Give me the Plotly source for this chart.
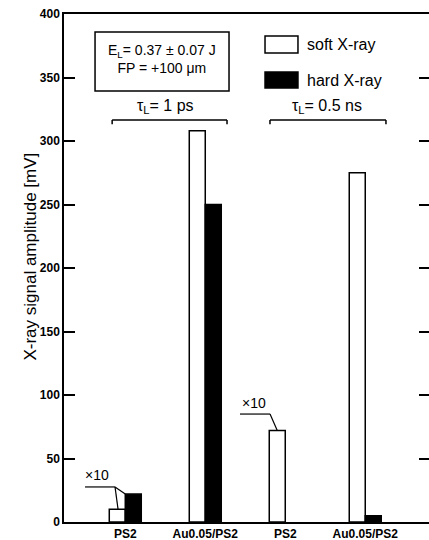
import plotly.graph_objects as go

# ---- data ----
categories = ["PS2", "Au0.05/PS2", "PS2", "Au0.05/PS2"]
positions = [1, 2, 3, 4]
soft_xray = [10, 308, 72, 275]
hard_xray = [22, 250, None, 5]
y_ticks = [0, 50, 100, 150, 200, 250, 300, 350, 400]
group_labels = ["τ<sub>L</sub>= 1 ps", "τ<sub>L</sub>= 0.5 ns"]
series_names = ["soft X-ray", "hard X-ray"]

FONT = "Liberation Sans, Arial, sans-serif"
BAR_W = 0.2

fig = go.Figure()
fig.add_bar(x=positions, y=soft_xray, width=BAR_W, offset=-BAR_W, name=series_names[0],
            marker=dict(color="white", line=dict(color="black", width=1.5)))
fig.add_bar(x=positions, y=hard_xray, width=BAR_W, offset=0, name=series_names[1],
            marker=dict(color="black", line=dict(color="black", width=1.5)))
# empty trace so the right-hand tick axis is drawn
fig.add_scatter(x=[None], y=[None], yaxis="y2", mode="markers", hoverinfo="skip")

shapes = []
annotations = []

def line(x0, y0, x1, y1, w=1.5):
    shapes.append(dict(type="line", xref="x", yref="y", x0=x0, y0=y0, x1=x1, y1=y1,
                       line=dict(color="black", width=w)))

# info box
shapes.append(dict(type="rect", xref="x", yref="y", x0=0.622, x1=2.297, y0=339.4, y1=385.8,
                   line=dict(color="black", width=1.5), fillcolor="rgba(0,0,0,0)"))
annotations.append(dict(x=1.46, y=364.2, xref="x", yref="y", showarrow=False,
                        text="E<sub>L</sub>= 0.37 ± 0.07 J<br>FP = +100 μm",
                        font=dict(family=FONT, size=14, color="black")))

# legend (custom)
shapes.append(dict(type="rect", xref="x", yref="y", x0=2.747, x1=3.159, y0=369.3, y1=382.7,
                   line=dict(color="black", width=1.5), fillcolor="white"))
shapes.append(dict(type="rect", xref="x", yref="y", x0=2.747, x1=3.159, y0=341.7, y1=354.3,
                   line=dict(color="black", width=1.5), fillcolor="black"))
annotations.append(dict(x=3.247, y=375.6, xref="x", yref="y", showarrow=False, xanchor="left",
                        text=series_names[0], font=dict(family=FONT, size=16, color="black")))
annotations.append(dict(x=3.247, y=348.0, xref="x", yref="y", showarrow=False, xanchor="left",
                        text=series_names[1], font=dict(family=FONT, size=16, color="black")))

# group brackets
for (xa, xb, xt), lab in zip([(0.836, 2.272, 1.497), (2.809, 4.259, 3.522)], group_labels):
    line(xa, 316.5, xb, 316.5)
    line(xa, 316.5, xa, 313.2)
    line(xb, 316.5, xb, 313.2)
    annotations.append(dict(x=xt, y=326.8, xref="x", yref="y", showarrow=False,
                            text=lab, font=dict(family=FONT, size=16, color="black")))

# x10 leaders
line(0.497, 27.6, 0.872, 27.6, 1.2)
line(0.872, 27.6, positions[0] - BAR_W / 2 + 0.01, soft_xray[0], 1.2)
line(0.872, 27.6, positions[0], hard_xray[0], 1.2)
annotations.append(dict(x=0.647, y=37, xref="x", yref="y", showarrow=False, text="×10",
                        font=dict(family=FONT, size=14, color="black")))
line(2.434, 85, 2.81, 85, 1.2)
line(2.81, 85, positions[2] - BAR_W / 2, soft_xray[2], 1.2)
annotations.append(dict(x=2.61, y=93.7, xref="x", yref="y", showarrow=False, text="×10",
                        font=dict(family=FONT, size=14, color="black")))

# y axis title
annotations.append(dict(x=-0.123, y=0.5217, xref="paper", yref="paper", showarrow=False,
                        textangle=-90, text="X-ray signal amplitude [mV]",
                        font=dict(family=FONT, size=17, color="black")))

fig.update_layout(
    width=429, height=540,
    margin=dict(l=64, r=0, t=14, b=18),
    plot_bgcolor="white", paper_bgcolor="white",
    showlegend=False, barmode="overlay",
    shapes=shapes, annotations=annotations,
    font=dict(family=FONT, color="black"),
    xaxis=dict(range=[0.234, 4.797], tickmode="array", tickvals=positions, ticktext=categories,
               showline=True, linecolor="black", linewidth=1.5, mirror=True, ticks="",
               showgrid=False, zeroline=False,
               tickfont=dict(family=FONT, size=12, color="black", weight="bold")),
    yaxis=dict(range=[0, 400], tickmode="array", tickvals=y_ticks,
               showline=True, linecolor="black", linewidth=1.5, mirror=False,
               ticks="inside", ticklen=11, tickwidth=1.5, tickcolor="black",
               showgrid=False, zeroline=False,
               tickfont=dict(family=FONT, size=12, color="black", weight="bold")),
    yaxis2=dict(range=[0, 400], tickmode="array", tickvals=y_ticks, overlaying="y", side="right",
                showline=False, showticklabels=False, ticks="inside", ticklen=10, tickwidth=1.5,
                tickcolor="black", showgrid=False, zeroline=False),
)

fig.write_html("out.html")
